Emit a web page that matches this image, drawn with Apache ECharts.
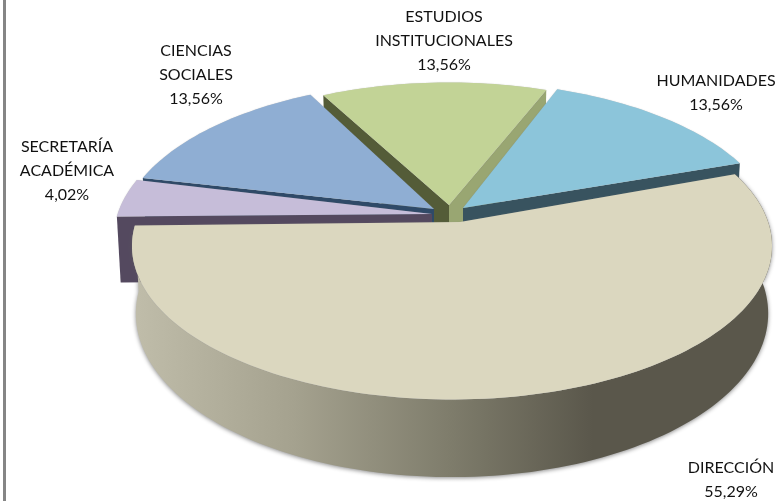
<!DOCTYPE html>
<html>
<head>
<meta charset="utf-8">
<style>
    html, body { margin: 0; padding: 0; background: #fff; }
    #chart { width: 784px; height: 501px; }
</style>
<script src="https://cdn.jsdelivr.net/npm/echarts@6/dist/echarts.min.js"></script>
</head>
<body>
<div id="chart"></div>
<script>
// clockwise from the start angle
var categories = ['DIRECCIÓN', 'SECRETARÍA\nACADÉMICA', 'CIENCIAS\nSOCIALES', 'ESTUDIOS\nINSTITUCIONALES', 'HUMANIDADES'];
var shares = [55.29, 4.02, 13.56, 13.56, 13.56];

// painted back to front
var drawOrder = [3, 2, 4, 1, 0];

var startAngle = 70;
var total = shares.reduce(function (a, b) { return a + b; }, 0);

// pie projection: squashed circle with a little perspective
var radiusX = 316.4;
var radiusY = 150;
var perspective = 0.15;
var depth = 66;
var lowerShrink = 0.988;

var sliceStyles = [
    { center: [452, 223], apex: [460, 222], top: '#dbd7bf', outer: true, label: [731, 480] },
    { center: [434, 214], apex: [432, 214], top: '#c6bdd9', wallStart: '#54495f', label: [67, 171] },
    { center: [440, 212], apex: [434, 209], top: '#8faed3', wallStart: '#2f4a68', label: [196, 75] },
    { center: [449, 209], scale: 0.97, apex: [449, 205], top: '#c2d396', wallStart: '#545c38', wallEnd: '#99a672', label: [444, 41] },
    { center: [457, 212], apex: [463, 208], top: '#8cc5da', wallEnd: '#38535f', label: [716, 93] }
];

function rim(style, angle) {
    var rad = angle * Math.PI / 180;
    var k = 1 + perspective * Math.cos(rad);
    var scale = style.scale || 1;
    return [
        style.center[0] + scale * radiusX * Math.sin(rad) / k,
        style.center[1] - scale * radiusY * Math.cos(rad) / k
    ];
}

function drop(style, point, angle) {
    var k = 1 + perspective * Math.cos(angle * Math.PI / 180);
    return [
        style.center[0] + (point[0] - style.center[0]) * lowerShrink,
        point[1] + depth / k
    ];
}

function arcAngles(from, to) {
    var list = [];
    for (var a = from; a < to; a += 1.5) {
        list.push(a);
    }
    list.push(to);
    return list;
}

function wallShape(style, angle, color) {
    var p = rim(style, angle);
    return {
        type: 'polygon',
        shape: { points: [style.apex, p, drop(style, p, angle), drop(style, style.apex, angle)] },
        style: { fill: color }
    };
}

function renderSlice(params, api) {
    var index = api.value(0);
    var before = 0;
    for (var i = 0; i < index; i++) {
        before += shares[i];
    }
    var from = startAngle + before / total * 360;
    var to = from + api.value(1) / total * 360;
    var style = sliceStyles[index];
    var angles = arcAngles(from, to);
    var topEdge = angles.map(function (a) { return rim(style, a); });
    var children = [];

    if (style.wallStart) {
        children.push(wallShape(style, from, style.wallStart));
    }
    if (style.wallEnd) {
        children.push(wallShape(style, to, style.wallEnd));
    }
    if (style.outer) {
        var lower = angles.map(function (a, j) { return drop(style, topEdge[j], a); }).reverse();
        children.push({
            type: 'polygon',
            shape: { points: topEdge.concat(lower) },
            style: {
                fill: {
                    type: 'linear', x: 0, y: 0, x2: 1, y2: 0,
                    colorStops: [
                        { offset: 0, color: '#c0bdaa' },
                        { offset: 0.25, color: '#a5a28f' },
                        { offset: 0.5, color: '#7e7c6b' },
                        { offset: 0.72, color: '#5a574b' },
                        { offset: 1, color: '#5a574b' }
                    ]
                },
                shadowBlur: 4,
                shadowColor: 'rgba(90,90,90,0.7)',
                shadowOffsetY: 1
            }
        });
    }
    children.push({
        type: 'polygon',
        shape: { points: [style.apex].concat(topEdge) },
        style: { fill: style.top, shadowBlur: 1, shadowColor: 'rgba(120,120,120,0.5)' }
    });
    children.push({
        type: 'text',
        z2: 10,
        style: {
            x: style.label[0],
            y: style.label[1],
            text: categories[index] + '\n' + api.value(1).toFixed(2).replace('.', ',') + '%',
            fill: '#111',
            font: '16px Lato',
            lineHeight: 24,
            align: 'center',
            verticalAlign: 'middle'
        }
    });
    return { type: 'group', children: children };
}

var chart = echarts.init(document.getElementById('chart'));

chart.setOption({
    animation: false,
    backgroundColor: '#fff',
    graphic: [{
        type: 'rect',
        shape: { x: 3, y: 0, width: 3, height: 501 },
        style: { fill: '#858585' }
    }],
    series: [{
        type: 'custom',
        coordinateSystem: 'none',
        silent: true,
        data: drawOrder.map(function (i) { return [i, shares[i]]; }),
        renderItem: renderSlice
    }]
});
</script>
</body>
</html>
